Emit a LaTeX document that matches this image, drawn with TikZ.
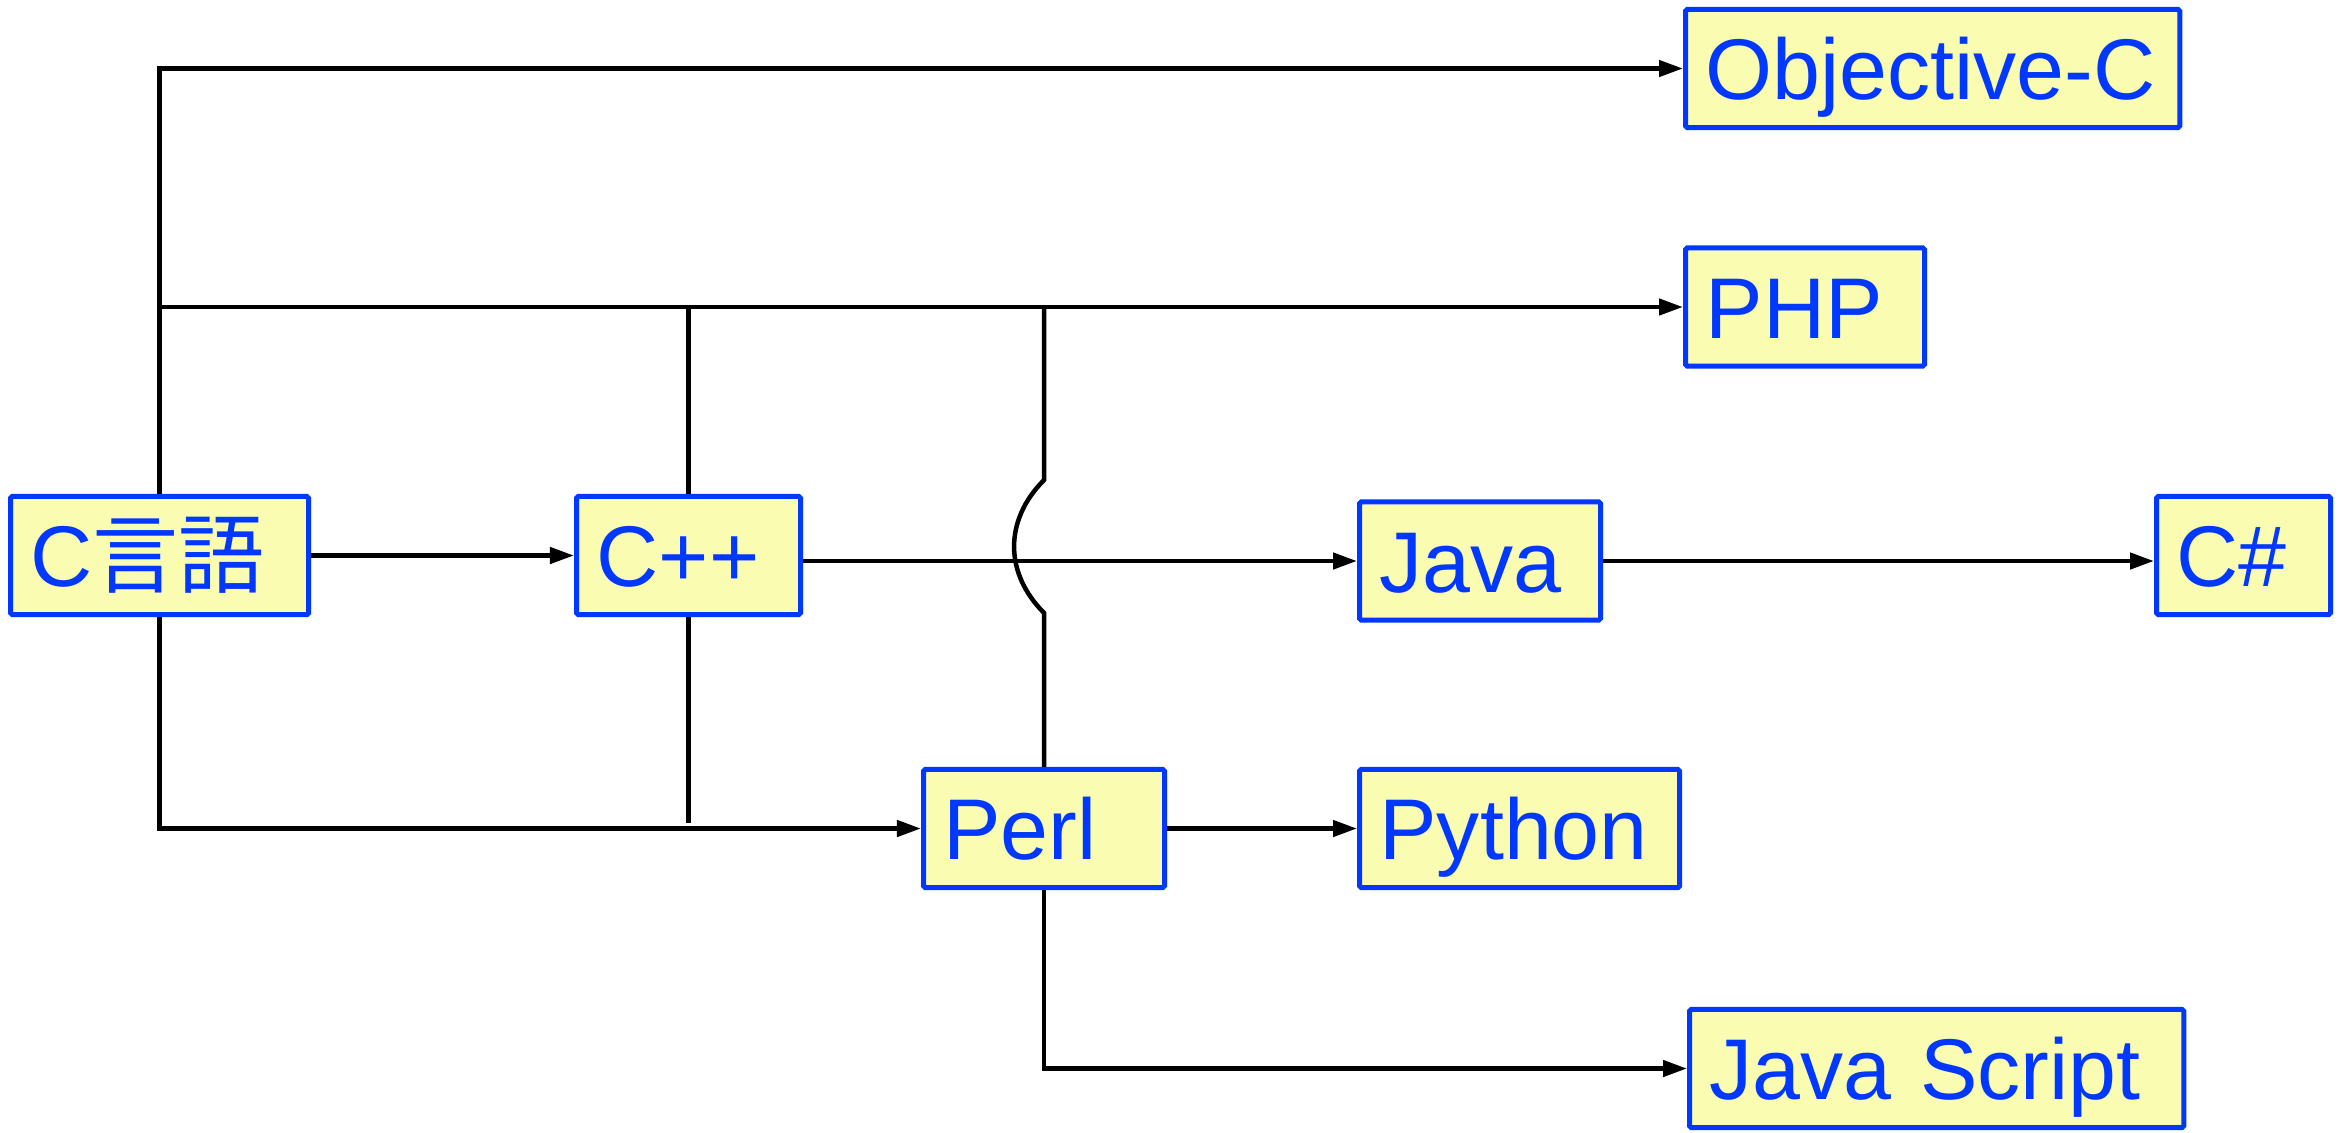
\documentclass[tikz,border=0pt]{standalone}
\usepackage{fontspec}
\setmainfont{Liberation Sans}
\newfontfamily\cjk{Noto Sans CJK JP}
\usetikzlibrary{arrows.meta}

\definecolor{boxfill}{RGB}{250,252,178}
\definecolor{boxblue}{RGB}{0,56,255}

\begin{document}
\begin{tikzpicture}[x=0.01cm, y=-0.01cm,
    lang/.style={rectangle, draw=boxblue, fill=boxfill, text=boxblue,
        line width=0.05cm, rounded corners=0.5pt, anchor=west,
        inner xsep=0.2cm, minimum height=1.18cm, align=left,
        text height=0.62cm, text depth=0cm,
        font=\fontsize{24.5pt}{29pt}\selectfont},
    arr/.style={-{Triangle[length=0.24cm, width=0.16cm]}},
    every path/.style={line width=0.045cm}]
    \useasboundingbox (0,0) rectangle (2348,1132);
    \node[lang, text width=2.58cm] (clang) at (8,555.5) {C{\cjk 言語}};
    \node[lang, text width=1.84cm] (cpp) at (574,555.5) {C++};
    \node[lang, text width=2.01cm] (java) at (1357,561) {Java};
    \node[lang, text width=1.34cm] (csharp) at (2154,555.5) {C\#};
    \node[lang, text width=4.54cm] (objc) at (1683,68.5) {Objective-C};
    \node[lang, text width=1.99cm] (php) at (1683,307) {PHP};
    \node[lang, text width=2.01cm] (perl) at (921,828.5) {Perl};
    \node[lang, text width=2.80cm] (python) at (1357,828.5) {Python};
    \node[lang, text width=4.54cm] (js) at (1687,1068.5) {Java Script};

    \draw[arr] (clang.north) |- (objc.west);
    \draw[arr] (clang.north |- php.west) -- (php.west);
    \draw[arr] (clang.east) -- (cpp.west);
    \draw[arr] (clang.south) |- (perl.west);
    \draw (cpp.north) -- (cpp.north |- php.west);
    \draw (cpp.south) -- ([yshift=0.06cm]cpp.south |- perl.west);
    \draw[arr] (cpp.east |- java.west) -- (java.west);
    \draw[arr] (java.east) -- (java.east -| csharp.west);
    % jump over the C++ -> Java line
    \draw (perl.north) -- ++(0,-154) .. controls +(-40,-40) and +(-40,40) .. ++(0,-133)
        -- (perl.north |- php.west);
    \draw[arr] (perl.east) -- (python.west);
    \draw[arr] (perl.south) |- (js.west);
\end{tikzpicture}
\end{document}
